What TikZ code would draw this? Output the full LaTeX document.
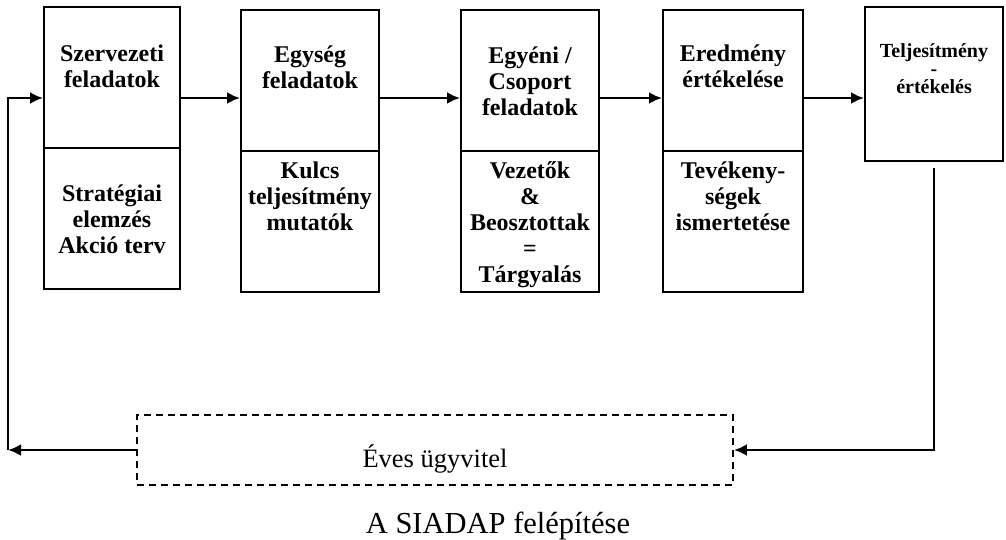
\documentclass[tikz,border=0pt]{standalone}
\usepackage{fontspec}
\setmainfont{Liberation Serif}
\usepackage{tikz}
\usetikzlibrary{calc,arrows.meta}
\def\drawflow{\draw[line width=2.6pt,-{Latex[length=13pt,width=12pt]}]}
\def\stepnode{\node[draw=black,line width=1.9pt,inner sep=0pt]}
\def\textnode{\node[font=\bfseries\fontsize{24}{26}\selectfont,align=center,anchor=base,inner sep=0pt]}

\begin{document}
\begin{tikzpicture}[x=1pt,y=-1pt]
\useasboundingbox (0,0) rectangle (1006,540);
\coordinate (flow) at (0,98); % height of the arrows between the boxes

% ---------- the five steps, upper and lower halves
\stepnode[minimum width=136pt,minimum height=141pt] (szerv) at (112,77.5) {};
\stepnode[minimum width=136pt,minimum height=141pt] (szervlow) at (112,218.5) {};
\stepnode[minimum width=138pt,minimum height=141pt] (egys) at (310,80.5) {};
\stepnode[minimum width=138pt,minimum height=141pt] (egyslow) at (310,221.5) {};
\stepnode[minimum width=138pt,minimum height=141pt] (egyeni) at (530,80.5) {};
\stepnode[minimum width=138pt,minimum height=141pt] (egyenilow) at (530,221.5) {};
\stepnode[minimum width=140pt,minimum height=141pt] (ered) at (733,80.5) {};
\stepnode[minimum width=140pt,minimum height=141pt] (eredlow) at (733,221.5) {};
\stepnode[minimum width=138pt,minimum height=154pt] (telj) at (934,84) {};

% texts of the boxes (placed by the baseline of their last line)
\textnode (szervtxt) at (112,88) {Szervezeti\\feladatok};
\textnode (strattxt) at (112,253) {Stratégiai\\elemzés\\Akció terv};
\textnode (egystxt) at (310,89) {Egység\\feladatok};
\textnode (kulcstxt) at (310,230) {Kulcs\\teljesítmény\\mutatók};
\textnode (egyenitxt) at (530,116) {Egyéni /\\Csoport\\feladatok};
\textnode (vezettxt) at (530,282) {Vezetők\\\&\\Beosztottak\\=\\Tárgyalás};
\textnode (eredtxt) at (733,88) {Eredmény\\értékelése};
\textnode (tevtxt) at (733,230) {Tevékeny-\\ségek\\ismertetése};
\textnode[font=\bfseries\fontsize{20}{18}\selectfont] (teljtxt) at (934,94) {Teljesítmény\\-\\értékelés};

% ---------- arrows along the top row
\drawflow (szerv.east |- flow) to (egys.west |- flow);
\drawflow (egys.east |- flow) to (egyeni.west |- flow);
\drawflow (egyeni.east |- flow) to (ered.west |- flow);
\drawflow (ered.east |- flow) to (telj.west |- flow);

% ---------- the yearly box and the loop back
\node[draw=black,line width=1.8pt,dash pattern=on 7pt off 5pt,minimum width=596pt,minimum height=70pt,inner sep=0pt] (eves) at (435,450) {};
\node[font=\fontsize{26.5}{30}\selectfont,anchor=base,inner sep=0pt] (evestxt) at (435,467) {Éves ügyvitel};
\coordinate (right_turn) at (934,450);
\coordinate (left_turn) at (8,450);
\coordinate (left_top) at (8,98);
\drawflow ($ (telj.south) + (0,6) $) to (right_turn) to (eves.east);
\drawflow (eves.west) to (left_turn);
\drawflow (left_turn) to (left_top) to (szerv.west |- left_top);

\node[font=\fontsize{30.5}{34}\selectfont,anchor=base,inner sep=0pt] (caption) at (498,533) {A SIADAP felépítése};
\end{tikzpicture}
\end{document}
